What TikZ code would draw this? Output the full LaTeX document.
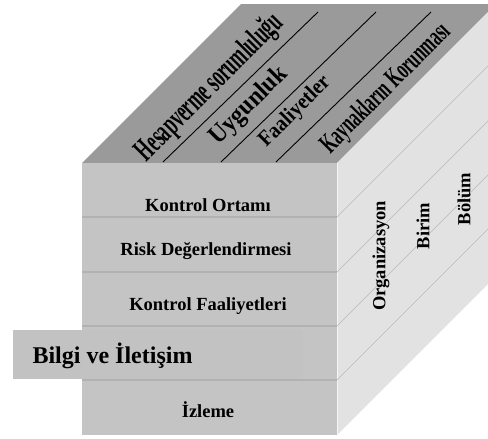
\documentclass[tikz,border=0pt]{standalone}
\usepackage{fontspec}
\setmainfont{Liberation Serif}

\definecolor{frontgray}{HTML}{C4C4C4}
\definecolor{topgray}{HTML}{9A9A9A}
\definecolor{sidegray}{HTML}{E2E2E2}
\definecolor{sepgray}{HTML}{B2B2B2}
\definecolor{bilgigray}{HTML}{C2C2C2}

\tikzset{layer/.style={anchor=base,font=\fontsize{18.5}{22}\selectfont\bfseries}}
\tikzset{unit/.style={rotate=90,font=\fontsize{18.5}{22}\selectfont\bfseries}}
\tikzset{aim/.style={rotate=45,inner sep=0pt}}
\tikzset{sepline/.style={sepgray,line width=1.2pt}}
\tikzset{sideline/.style={gray!55,line width=0.4pt}}
\tikzset{topline/.style={black,line width=0.9pt}}

\begin{document}
\begin{tikzpicture}[x=1pt,y=-1pt]
        \useasboundingbox (0,0) rectangle (488,439);
        \clip (0,0) rectangle (488,439);
        % the three faces of the cube
        \fill[topgray] (82,163) -- (241,4) -- (496,4) -- (337,163) -- cycle;
        \fill[sidegray] (337,163) -- (496,4) -- (496,276) -- (337,435) -- cycle;
        \fill[frontgray] (82,163) rectangle (337,435);
        \draw[white!92!gray,line width=1pt] (337.5,163) -- (337.5,435);
        
        % the layers on the front and their traces on the side
        \foreach \y in {217,272,326,380} {
            \draw[sepline] (82,\y) -- (337,\y);
            \draw[sideline] (337,\y) -- ++(159,-159);
        }
        % the strips on the top
        \foreach \x in {163,221,276} {
            \draw[topline] (\x,162) -- ++(155,-150);
        }
        
        \node[layer] (ortam) at (208,211) {Kontrol Ortamı};
        \node[layer] (risk) at (206,255) {Risk Değerlendirmesi};
        \node[layer] (faal) at (208,310) {Kontrol Faaliyetleri};
        \fill[bilgigray] (13,330) rectangle (302,379);
        \node[layer,anchor=base west,font=\fontsize{24}{28}\selectfont\bfseries] (bilgi) at (29,363) {Bilgi ve İletişim};
        \node[layer] (izleme) at (208,417) {İzleme};
        
        \node[unit] (org) at (381,256) {Organizasyon};
        \node[unit] (birim) at (423,226) {Birim};
        \node[unit] (bolum) at (464,199) {Bölüm};
        
        \node[aim] (hesap) at (210,88) {\scalebox{0.55}[1]{\fontsize{32}{36}\selectfont\bfseries Hesapverme sorumluluğu}};
        \node[aim] (uygun) at (249,106) {\scalebox{0.9}[1]{\fontsize{26}{30}\selectfont\bfseries Uygunluk}};
        \node[aim] (faaliyet) at (295,112) {\scalebox{0.9}[1]{\fontsize{22}{26}\selectfont\bfseries Faaliyetler}};
        \node[aim] (kaynak) at (386,89) {\scalebox{0.58}[1]{\fontsize{28}{32}\selectfont\bfseries Kaynakların Korunması}};
\end{tikzpicture}
\end{document}
